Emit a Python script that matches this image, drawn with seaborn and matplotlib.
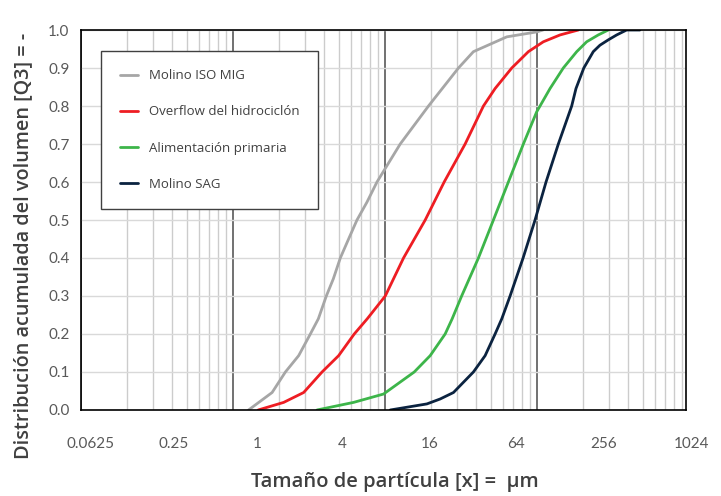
import numpy as np
import pandas as pd
import matplotlib
matplotlib.use("Agg")
import matplotlib.pyplot as plt
import seaborn as sns

# ---------------- data (particle size in µm, cumulative volume fraction) ----------------
series_names = ["Molino ISO MIG", "Overflow del hidrociclón", "Alimentación primaria", "Molino SAG"]

iso_size = [1.27, 1.815, 2.22, 2.714, 3.24, 3.657, 4.127, 4.587, 5.101, 5.783, 6.566, 7.638,
            8.889, 12.64, 19.40, 30.54, 38.31, 63.53, 100.0, 110.0]
iso_q3 = [0.0, 0.046, 0.10, 0.143, 0.20, 0.24, 0.30, 0.345, 0.40, 0.45, 0.50, 0.547,
          0.60, 0.70, 0.80, 0.90, 0.943, 0.982, 0.995, 1.0]

ovf_size = [1.47, 2.163, 2.927, 3.868, 4.972, 6.30, 7.67, 10.08, 13.29, 18.46, 24.6,
            33.80, 44.59, 53.21, 68.50, 88.07, 110.5, 142.3, 187.7]
ovf_q3 = [0.0, 0.02, 0.046, 0.10, 0.143, 0.20, 0.24, 0.30, 0.40, 0.50, 0.60,
          0.70, 0.80, 0.846, 0.90, 0.943, 0.969, 0.987, 1.0]

ali_size = [3.584, 6.237, 9.82, 15.63, 19.9, 24.97, 27.77, 32.06, 41.33, 51.87, 65.07,
            81.66, 100.0, 105.1, 122.3, 149.5, 183.2, 213.0, 253.9, 295.4]
ali_q3 = [0.0, 0.02, 0.042, 0.10, 0.143, 0.20, 0.24, 0.30, 0.40, 0.50, 0.60,
          0.70, 0.785, 0.80, 0.846, 0.90, 0.943, 0.969, 0.987, 1.0]

sag_size = [10.87, 18.94, 23.16, 28.32, 38.31, 45.75, 53.21, 58.88, 66.77, 81.3, 97.46,
            115.1, 138.7, 169.8, 181.2, 204.0, 235.4, 260.5, 295.4, 335.5, 390.1, 477.2]
sag_q3 = [0.0, 0.016, 0.029, 0.046, 0.10, 0.143, 0.20, 0.24, 0.30, 0.40, 0.50,
          0.60, 0.70, 0.80, 0.846, 0.90, 0.943, 0.96, 0.974, 0.987, 1.0, 1.0]

x_tick_labels = ["0.0625", "0.25", "1", "4", "16", "64", "256", "1024"]
y_ticks = [0.0, 0.1, 0.2, 0.3, 0.4, 0.5, 0.6, 0.7, 0.8, 0.9, 1.0]

# ---------------- build long-form table ----------------
frames = []
for name, xs, ys in zip(series_names,
                        [iso_size, ovf_size, ali_size, sag_size],
                        [iso_q3, ovf_q3, ali_q3, sag_q3]):
    frames.append(pd.DataFrame({"size": xs, "q3": ys, "serie": name}))
df = pd.concat(frames, ignore_index=True)

palette = {
    "Molino ISO MIG": "#a6a6a6",
    "Overflow del hidrociclón": "#ee1d23",
    "Alimentación primaria": "#3db54a",
    "Molino SAG": "#0b2340",
}

sns.set_theme(style="white")
plt.rcParams["font.family"] = ["Lato", "DejaVu Sans"]

fig = plt.figure(figsize=(7.21, 4.96), dpi=100)
ax = fig.add_axes([0.112, 0.1734, 0.840, 0.7661])

sns.lineplot(data=df, x="size", y="q3", hue="serie", palette=palette,
             hue_order=series_names, estimator=None, linewidth=2.0, ax=ax)

ax.set_xscale("log")
ax.set_xlim(0.1, 965)
ax.set_ylim(0, 1.0)

# grid
ax.set_yticks(y_ticks)
ax.set_yticklabels([f"{v:.1f}" for v in y_ticks], fontsize=11, color="#595959")
ax.yaxis.grid(True, color="#d9d9d9", linewidth=1.0)
ax.xaxis.set_major_locator(matplotlib.ticker.LogLocator(base=10, numticks=10))
ax.xaxis.set_minor_locator(matplotlib.ticker.LogLocator(base=10, subs=np.arange(2, 10), numticks=20))
ax.xaxis.grid(True, which="major", color="#595959", linewidth=1.2)
ax.xaxis.grid(True, which="minor", color="#cccccc", linewidth=1.0)
ax.set_axisbelow(True)
ax.tick_params(axis="both", which="both", length=0)
ax.tick_params(axis="y", pad=8)
ax.set_xticklabels([])
ax.set_xticklabels([], minor=True)

for sp in ax.spines.values():
    sp.set_color("black")
    sp.set_linewidth(1.2)
    sp.set_visible(True)

# x tick labels (evenly spaced beneath the axis, as in the source figure)
label_frac = [0.0162, 0.154, 0.291, 0.432, 0.576, 0.719, 0.864, 1.008]
for fx, lab in zip(label_frac, x_tick_labels):
    ax.text(fx, -0.09, lab, transform=ax.transAxes, ha="center", va="center",
            fontsize=11, color="#595959", clip_on=False)

ax.set_xlabel("")
ax.set_ylabel("")
fig.text(0.548, 0.028, "Tamaño de partícula [x] =  µm", ha="center", va="center",
         fontsize=14.5, color="#404040", family=["Open Sans", "DejaVu Sans"], fontweight="semibold")
fig.text(0.032, 0.505, "Distribución acumulada del volumen [Q3] = -", ha="center", va="center",
         rotation=90, fontsize=14.3, color="#404040", family=["Open Sans", "DejaVu Sans"],
         fontweight="semibold")

# legend
handles, labels = ax.get_legend_handles_labels()
leg = ax.legend(handles, labels, loc="upper left", bbox_to_anchor=(0.0335, 0.945),
                borderaxespad=0, frameon=True, fancybox=False, framealpha=1,
                edgecolor="#404040", labelspacing=1.75, borderpad=1.4,
                handlelength=1.4, handletextpad=0.85,
                prop={"family": ["Open Sans", "DejaVu Sans"], "size": 9.5})
leg.get_frame().set_linewidth(1.0)
for t in leg.get_texts():
    t.set_color("#404040")

fig.savefig("out.png", dpi=100)
